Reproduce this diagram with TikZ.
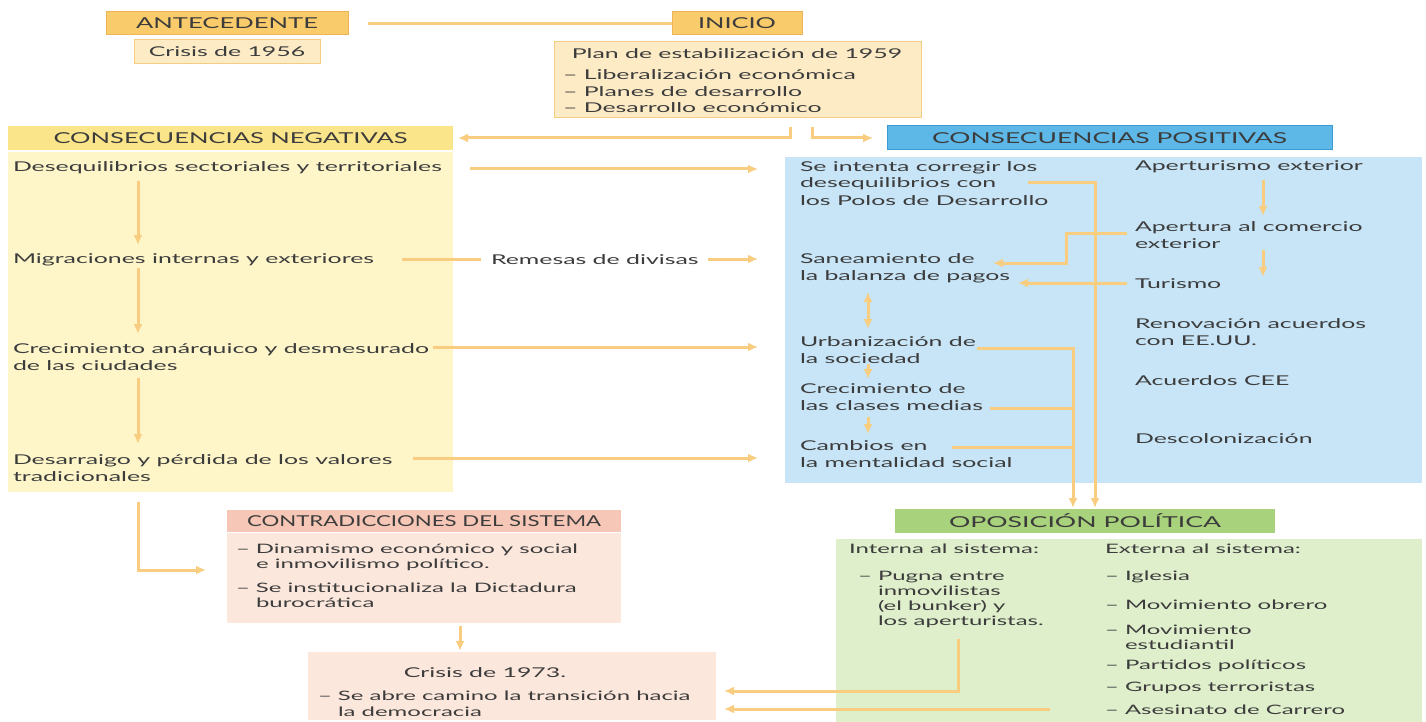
\documentclass[tikz,border=0pt]{standalone}
\usepackage{fontspec}
\usepackage{graphicx}
\usetikzlibrary{arrows.meta}
\newfontfamily\measfont{Lato}
\newlength\mylen
\settowidth\mylen{\measfont\fontsize{13.5}{17}\selectfont Desequilibrios sectoriales y territoriales}
\pgfmathsetmacro\bodystretch{429/\mylen}
\edef\tmpfontsetup{\noexpand\setmainfont{Lato}[FakeStretch=\bodystretch]}
\tmpfontsetup
\newfontfamily\hdrfont{Lato}
\newlength\hfitlen
\newcommand\hfit[2]{\settowidth\hfitlen{#2}\pgfmathsetmacro\hfitx{#1/\hfitlen}\scalebox{\hfitx}[1]{#2}}
\definecolor{txt}{HTML}{3C3C3C}
\definecolor{arrc}{HTML}{F9CD80}
\definecolor{hdrO}{HTML}{F9CB6B}
\definecolor{hdrOd}{HTML}{EDB556}
\definecolor{boxO}{HTML}{FDEBC6}
\definecolor{boxOd}{HTML}{F5CD82}
\definecolor{hdrY}{HTML}{FBE58A}
\definecolor{bodY}{HTML}{FEF6C9}
\definecolor{hdrB}{HTML}{5DB7E7}
\definecolor{hdrBd}{HTML}{3E9BD1}
\definecolor{bodB}{HTML}{C7E5F7}
\definecolor{hdrG}{HTML}{A9D27C}
\definecolor{bodG}{HTML}{DFEFCB}
\definecolor{hdrP}{HTML}{F6C7B6}
\definecolor{bodP}{HTML}{FCE7DC}
\begin{document}
\begin{tikzpicture}[x=1pt,y=-1pt,
  every node/.style={inner sep=0pt, outer sep=0pt},
  fs/.style={font=\fontsize{13.5}{17}\selectfont, text=txt},
  fsp/.style={font=\fontsize{13}{15.5}\selectfont, text=txt},
  fsg/.style={font=\fontsize{13}{15}\selectfont, text=txt},
  txt/.style={fs, anchor=base west, align=left},
  ctxt/.style={fs, anchor=base, align=center},
  hdr/.style={font=\hdrfont\fontsize{15}{18}\selectfont, text=txt, anchor=north west},
  rect/.style={anchor=north west},
  arr/.style={draw=arrc, line width=3pt, -{Latex[length=10pt,width=9pt]}},
  arrtw/.style={draw=arrc, line width=3pt, {Latex[length=10pt,width=9pt]}-{Latex[length=10pt,width=9pt]}},
  ln/.style={draw=arrc, line width=3pt},
]
\fill[white] (0,0) rectangle (1426,722);
\useasboundingbox (0,0) rectangle (1426,722);

% ---------- boxes ----------
\node[rect, fill=bodY, minimum width=445, minimum height=340] (negB) at (8,152) {};
\node[hdr, fill=hdrY, minimum width=445, minimum height=24] (negH) at (8,126) {\hfit{354}{CONSECUENCIAS NEGATIVAS}};
\node[rect, fill=bodB, minimum width=637, minimum height=326] (posB) at (785,157) {};
\node[hdr, fill=hdrB, draw=hdrBd, line width=1pt, minimum width=445, minimum height=24] (posH) at (887,126) {\hfit{355}{CONSECUENCIAS POSITIVAS}};
\node[rect, fill=bodG, minimum width=586, minimum height=184] (greB) at (836,539) {};
\node[hdr, fill=hdrG, minimum width=380, minimum height=24] (greH) at (895,509) {\hfit{272}{OPOSICIÓN POLÍTICA}};
\node[rect, fill=bodP, minimum width=394, minimum height=90] (conB) at (227,533) {};
\node[hdr, fill=hdrP, minimum width=394, minimum height=22] (conH) at (227,510) {\hfit{354}{CONTRADICCIONES DEL SISTEMA}};
\node[rect, fill=bodP, minimum width=408, minimum height=68] (c73B) at (308,652) {};
\node[hdr, fill=hdrO, draw=hdrOd, line width=1pt, minimum width=242, minimum height=23] (ante) at (106,12) {\hfit{182}{ANTECEDENTE}};
\node[rect, fill=boxO, draw=boxOd, line width=1pt, minimum width=186, minimum height=24, fs] (c56) at (134,40) {Crisis de 1956};
\node[hdr, fill=hdrO, draw=hdrOd, line width=1pt, minimum width=130, minimum height=23] (inicio) at (672,12) {\hfit{78}{INICIO}};
\node[rect, fill=boxO, draw=boxOd, line width=1pt, minimum width=367, minimum height=76] (planB) at (554,42) {};

% ---------- texts ----------
\node[ctxt] (plan0) at (737,59) {Plan de estabilización de 1959};
\node[txt] (plan1) at (563,80) {– Liberalización económica};
\node[txt] (plan2) at (563,97) {– Planes de desarrollo};
\node[txt] (plan3) at (563,113) {– Desarrollo económico};

\node[txt] (n1) at (13,172) {Desequilibrios sectoriales y territoriales};
\node[txt] (n2) at (13,263) {Migraciones internas y exteriores};
\node[txt] (n3) at (13,370) {Crecimiento anárquico y desmesurado\\de las ciudades};
\node[txt] (n4) at (13,481) {Desarraigo y pérdida de los valores\\tradicionales};
\node[txt] (rem) at (491,264) {Remesas de divisas};

\node[txt] (p1) at (800,205) {Se intenta corregir los\\desequilibrios con\\los Polos de Desarrollo};
\node[txt] (p2) at (800,280) {Saneamiento de\\la balanza de pagos};
\node[txt] (p3) at (800,363) {Urbanización de\\la sociedad};
\node[txt] (p4) at (800,410) {Crecimiento de\\las clases medias};
\node[txt] (p5) at (800,467) {Cambios en\\la mentalidad social};

\node[txt] (r1) at (1135,171) {Aperturismo exterior};
\node[txt] (r2) at (1135,248) {Apertura al comercio\\exterior};
\node[txt] (r3) at (1135,288) {Turismo};
\node[txt] (r4) at (1135,345) {Renovación acuerdos\\con EE.UU.};
\node[txt] (r5) at (1135,385) {Acuerdos CEE};
\node[txt] (r6) at (1135,443) {Descolonización};

\node[txt, fsp] (k1) at (236,568.5) {– Dinamismo económico y social\\\hphantom{– }e inmovilismo político.};
\node[txt, fsp] (k2) at (236,607.5) {– Se institucionaliza la Dictadura\\\hphantom{– }burocrática};

\node[ctxt] (c73t) at (485,677) {Crisis de 1973.};
\node[txt, fsp] (c73a) at (318,716) {– Se abre camino la transición hacia\\\hphantom{– }la democracia};

\node[ctxt, fsg] (gint) at (944,553) {Interna al sistema:};
\node[txt, fsg] (gext) at (1105,553) {Externa al sistema:};
\node[txt, fsg] (g1) at (858,625) {– Pugna entre\\\hphantom{– }inmovilistas\\\hphantom{– }(el bunker) y\\\hphantom{– }los aperturistas.};
\node[txt, fsg] (e1) at (1105,580) {– Iglesia};
\node[txt, fsg] (e2) at (1105,609) {– Movimiento obrero};
\node[txt, fsg] (e3) at (1105,649) {– Movimiento\\\hphantom{– }estudiantil};
\node[txt, fsg] (e4) at (1105,669) {– Partidos políticos};
\node[txt, fsg] (e5) at (1105,691) {– Grupos terroristas};
\node[txt, fsg] (e6) at (1105,714) {– Asesinato de Carrero};

% ---------- connector points ----------
\coordinate (pL) at (790,127);
\coordinate (pR) at (812,127);
\coordinate (tipx) at (758,0);
\coordinate (s1) at (470,169);
\coordinate (s2) at (402,259);
\coordinate (s3) at (433,347);
\coordinate (s4) at (413,458);
\coordinate (v1a) at (138,181); \coordinate (v1b) at (138,245);
\coordinate (v2a) at (138,268); \coordinate (v2b) at (138,334);
\coordinate (v3a) at (138,378); \coordinate (v3b) at (138,444);
\coordinate (v4a) at (138,502); \coordinate (kin) at (206,570);
\coordinate (ka) at (460,626); \coordinate (kb) at (460,651);
\coordinate (q1) at (1028,183); \coordinate (q1e) at (1095,508);
\coordinate (q2) at (977,348); \coordinate (q2e) at (1073,508);
\coordinate (q3) at (990,408);
\coordinate (q4) at (952,447);
\coordinate (q5) at (1127,233); \coordinate (q5m) at (1066,263); \coordinate (q5e) at (993,263);
\coordinate (q6) at (1127,283); \coordinate (q6e) at (1018,283);
\coordinate (u1a) at (868,292); \coordinate (u1b) at (868,329);
\coordinate (u2a) at (868,364); \coordinate (u2b) at (868,379);
\coordinate (u3a) at (868,417); \coordinate (u3b) at (868,434);
\coordinate (w1a) at (1263,180); \coordinate (w1b) at (1263,216);
\coordinate (w2a) at (1263,250); \coordinate (w2b) at (1263,277);
\coordinate (g1o) at (958,639); \coordinate (gin1) at (724,691);
\coordinate (g2o) at (1050,709); \coordinate (gin2) at (724,709);

% ---------- connectors ----------
\draw[ln] ([xshift=20pt]ante.east) -- (inicio.west);
\draw[arr] (pL) |- ([xshift=5pt]negH.east);
\draw[arr] (pR) |- ([xshift=-14pt]posH.west);

\draw[arr] (s1) -- (s1 -| tipx);
\draw[ln] (s2) -- ([xshift=-10pt]rem.west |- s2);
\draw[arr] ([xshift=9pt]rem.east |- s2) -- (s2 -| tipx);
\draw[arr] (s3) -- (s3 -| tipx);
\draw[arr] (s4) -- (s4 -| tipx);

\draw[arr] (v1a) -- (v1b);
\draw[arr] (v2a) -- (v2b);
\draw[arr] (v3a) -- (v3b);
\draw[arr] (v4a) |- (kin);
\draw[arr] (ka) -- (kb);

\draw[arr] (q1) -| (q1e);
\draw[arr] (q2) -| (q2e);
\draw[ln] (q3) -- (q3 -| q2e);
\draw[ln] (q4) -- (q4 -| q2e);
\draw[arr] (q5) -| (q5m) -- (q5e);
\draw[arr] (q6) -- (q6e);
\draw[arrtw] (u1a) -- (u1b);
\draw[arr] (u2a) -- (u2b);
\draw[arr] (u3a) -- (u3b);
\draw[arr] (w1a) -- (w1b);
\draw[arr] (w2a) -- (w2b);

\draw[arr] (g1o) |- (gin1);
\draw[arr] (g2o) -- (gin2);
\end{tikzpicture}
\end{document}
